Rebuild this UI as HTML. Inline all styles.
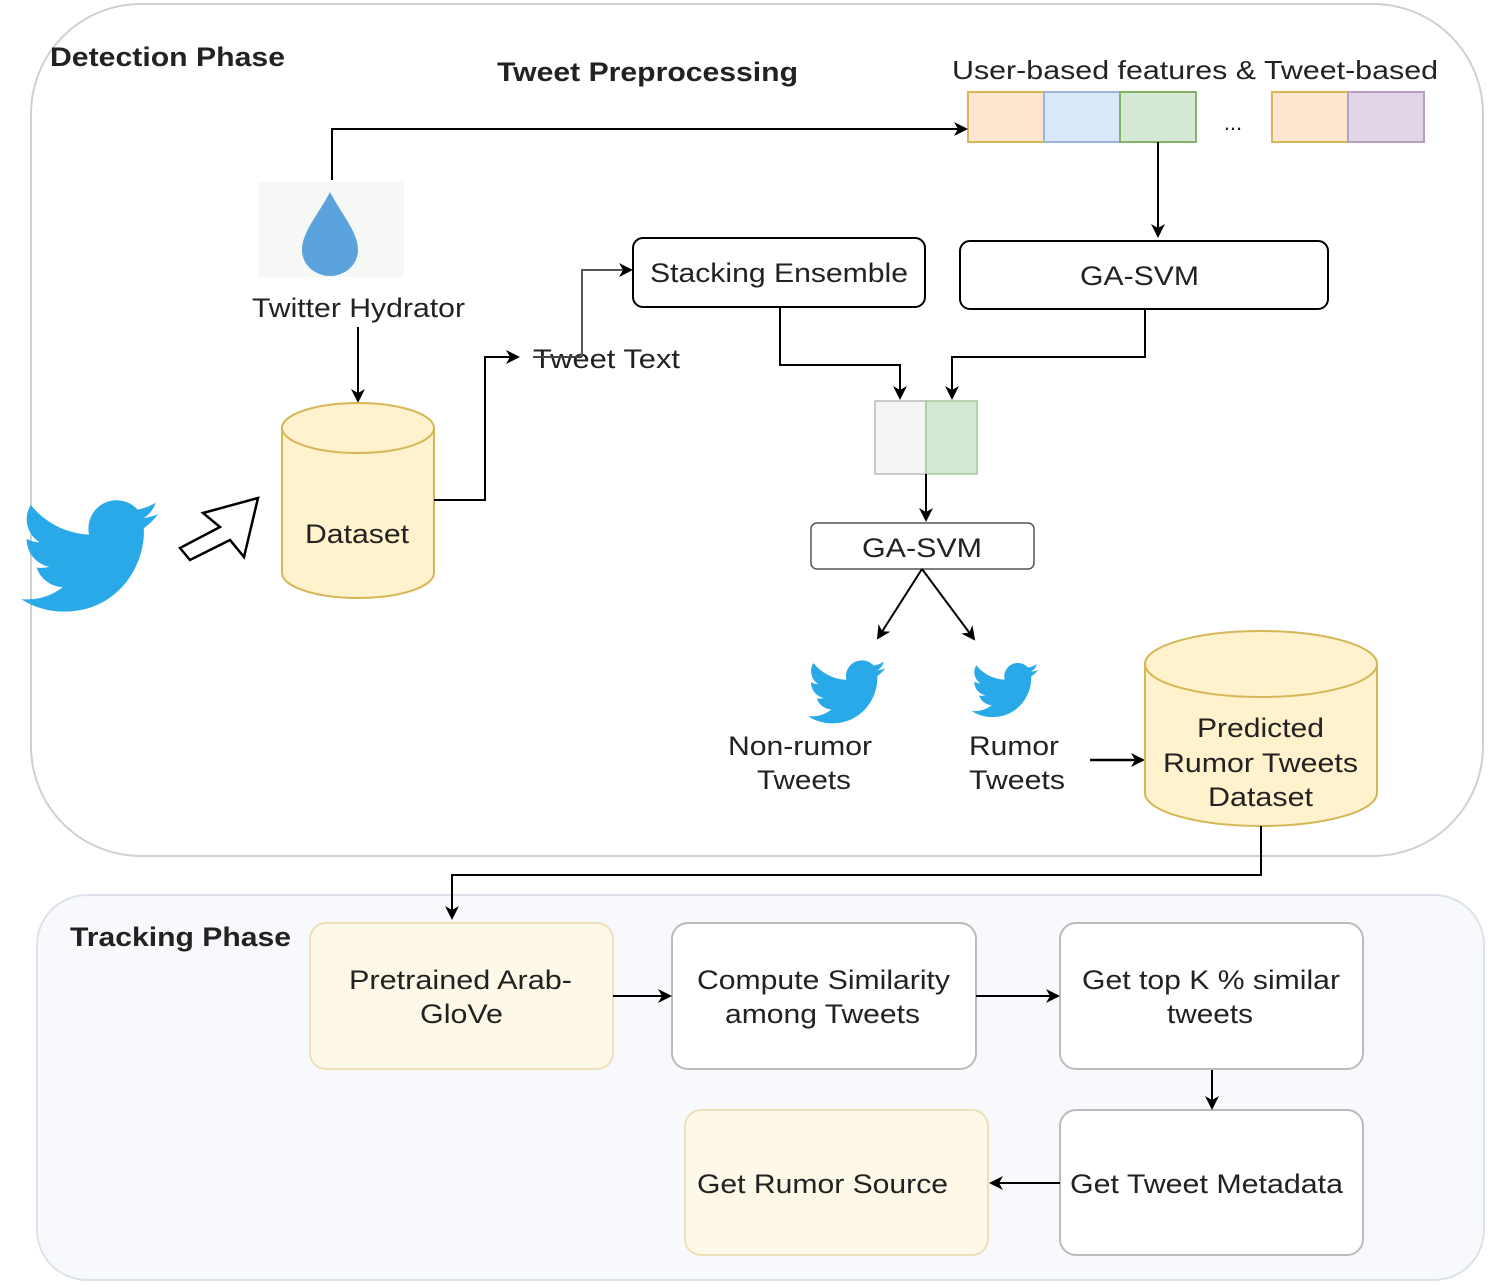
<!DOCTYPE html>
<html><head><meta charset="utf-8"><style>
html,body{margin:0;padding:0;background:#fff}
svg{display:block}
text{font-family:"Liberation Sans",sans-serif;fill:#222}
</style></head><body>
<svg width="1505" height="1285" viewBox="0 0 1505 1285">
<defs>
<marker id="b" markerWidth="14" markerHeight="14" refX="12" refY="7" orient="auto" markerUnits="userSpaceOnUse" viewBox="0 0 14 14">
<path d="M0,0 L14,7 L0,14 L4,7 z" fill="#000"/></marker>
<symbol id="tw" viewBox="0 0 24 20">
<path fill="#2aa9e8" d="M23.6 2.4c-.9.4-1.8.6-2.8.8 1-.6 1.8-1.6 2.1-2.7-.9.6-2 1-3.1 1.2C18.9.7 17.6.1 16.2.1c-2.7 0-4.8 2.2-4.8 4.8 0 .4 0 .8.1 1.1C7.5 5.8 3.9 3.9 1.5.9c-.4.7-.7 1.6-.7 2.4 0 1.700.9 3.2 2.2 4-.8 0-1.5-.2-2.2-.6v.1c0 2.3 1.7 4.3 3.9 4.7-.4.1-.8.2-1.3.2-.3 0-.6 0-.9-.1.6 1.9 2.4 3.3 4.5 3.400-1.7 1.3-3.7 2.1-6 2.1-.4 0-.8 0-1.2-.1 2.1 1.4 4.7 2.2 7.4 2.2 8.9 0 13.7-7.4 13.7-13.7v-.6c.9-.7 1.8-1.5 2.5-2.5z"/>
</symbol>
</defs>

<rect x="31" y="4" width="1452" height="852" rx="110" fill="#fff" stroke="#d0d0d0" stroke-width="2"/>
<rect x="37" y="895" width="1447" height="385" rx="50" fill="#f8f9fc" stroke="#dde2ea" stroke-width="2"/>

<g lengthAdjust="spacingAndGlyphs">
<text x="50" y="66" font-size="27" font-weight="bold" textLength="235" lengthAdjust="spacingAndGlyphs">Detection Phase</text>
<text x="497" y="81" font-size="27" font-weight="bold" textLength="301" lengthAdjust="spacingAndGlyphs">Tweet Preprocessing</text>
<text x="952" y="79" font-size="26" textLength="486" lengthAdjust="spacingAndGlyphs">User-based features &amp; Tweet-based</text>
</g>

<rect x="968" y="92" width="76" height="50" fill="#fde6cf" stroke="#d6b656" stroke-width="2"/>
<rect x="1044" y="92" width="76" height="50" fill="#dae8fc" stroke="#9bb5d6" stroke-width="2"/>
<rect x="1120" y="92" width="76" height="50" fill="#d5e8d4" stroke="#82b366" stroke-width="2"/>
<text x="1233" y="130" font-size="22" text-anchor="middle">...</text>
<rect x="1272" y="92" width="76" height="50" fill="#fde6cf" stroke="#d6b656" stroke-width="2"/>
<rect x="1348" y="92" width="76" height="50" fill="#e1d5e7" stroke="#b5a0c0" stroke-width="2"/>

<rect x="258" y="182" width="146" height="95" fill="#f6f8f6"/>
<path d="M330,192 C318,215 302,232 302,250 A28,26 0 0 0 358,250 C358,232 342,215 330,192 z" fill="#5ba3dd"/>
<text x="252" y="317" font-size="27" textLength="213" lengthAdjust="spacingAndGlyphs">Twitter Hydrator</text>
<polyline points="332,180 332,129 966,129" fill="none" stroke="#000" stroke-width="2" marker-end="url(#b)"/>
<line x1="358" y1="327" x2="358" y2="401" stroke="#000" stroke-width="2" marker-end="url(#b)"/>

<path d="M282,428 L282,573 A76,25 0 0 0 434,573 L434,428" fill="#fff2cc" stroke="#d6b656" stroke-width="2"/>
<ellipse cx="358" cy="428" rx="76" ry="25" fill="#fff2cc" stroke="#d6b656" stroke-width="2"/>
<text x="305" y="543" font-size="27" fill="#555" textLength="104" lengthAdjust="spacingAndGlyphs">Dataset</text>

<svg x="22" y="498" width="140" height="120" viewBox="0 0 24 20"><use href="#tw"/></svg>
<path d="M258,498 L244,557 L230,540 L190,560 L180,548 L220,527 L203,513 z" fill="#fff" stroke="#000" stroke-width="2.5"/>

<polyline points="434,500 485,500 485,357 518,357" fill="none" stroke="#000" stroke-width="2" marker-end="url(#b)"/>
<text x="533" y="368" font-size="27" textLength="147" lengthAdjust="spacingAndGlyphs">Tweet Text</text>
<line x1="533" y1="357" x2="582" y2="357" stroke="#444" stroke-width="2"/>
<polyline points="582,357 582,270 631,270" fill="none" stroke="#555" stroke-width="2" marker-end="url(#b)"/>

<rect x="633" y="238" width="292" height="69" rx="10" fill="#fff" stroke="#000" stroke-width="2"/>
<text x="650" y="282" font-size="27" textLength="258" lengthAdjust="spacingAndGlyphs">Stacking Ensemble</text>
<rect x="960" y="241" width="368" height="68" rx="10" fill="#fff" stroke="#000" stroke-width="2"/>
<text x="1080" y="285" font-size="27" textLength="119" lengthAdjust="spacingAndGlyphs">GA-SVM</text>
<line x1="1158" y1="142" x2="1158" y2="236" stroke="#000" stroke-width="2" marker-end="url(#b)"/>

<polyline points="780,307 780,365 900,365 900,398" fill="none" stroke="#000" stroke-width="2" marker-end="url(#b)"/>
<polyline points="1145,309 1145,357 952,357 952,398" fill="none" stroke="#000" stroke-width="2" marker-end="url(#b)"/>

<rect x="875" y="401" width="51" height="73" fill="#f5f5f5" stroke="#bbb" stroke-width="1.5"/>
<rect x="926" y="401" width="51" height="73" fill="#d5e8d4" stroke="#a8c8a0" stroke-width="1.5"/>
<line x1="926" y1="474" x2="926" y2="520" stroke="#000" stroke-width="2" marker-end="url(#b)"/>

<rect x="811" y="523" width="223" height="46" rx="6" fill="#fff" stroke="#555" stroke-width="1.5"/>
<text x="862" y="557" font-size="27" textLength="120" lengthAdjust="spacingAndGlyphs">GA-SVM</text>
<line x1="922" y1="569" x2="878" y2="638" stroke="#000" stroke-width="2" marker-end="url(#b)"/>
<line x1="922" y1="569" x2="974" y2="639" stroke="#000" stroke-width="2" marker-end="url(#b)"/>

<svg x="808" y="660" width="80" height="66" viewBox="0 0 24 20"><use href="#tw"/></svg>
<svg x="972" y="662" width="68" height="58" viewBox="0 0 24 20"><use href="#tw"/></svg>
<text x="728" y="755" font-size="27" textLength="144" lengthAdjust="spacingAndGlyphs">Non-rumor</text>
<text x="757" y="789" font-size="27" textLength="94" lengthAdjust="spacingAndGlyphs">Tweets</text>
<text x="969" y="755" font-size="27" textLength="90" lengthAdjust="spacingAndGlyphs">Rumor</text>
<text x="969" y="789" font-size="27" textLength="96" lengthAdjust="spacingAndGlyphs">Tweets</text>
<line x1="1090" y1="760" x2="1143" y2="760" stroke="#000" stroke-width="2.5" marker-end="url(#b)"/>

<path d="M1145,664 L1145,793 A116,33 0 0 0 1377,793 L1377,664" fill="#fff2cc" stroke="#d6b656" stroke-width="2"/>
<ellipse cx="1261" cy="664" rx="116" ry="33" fill="#fff2cc" stroke="#d6b656" stroke-width="2"/>
<text x="1197" y="737" font-size="27" textLength="127" lengthAdjust="spacingAndGlyphs">Predicted</text>
<text x="1163" y="772" font-size="27" textLength="195" lengthAdjust="spacingAndGlyphs">Rumor Tweets</text>
<text x="1208" y="806" font-size="27" textLength="105" lengthAdjust="spacingAndGlyphs">Dataset</text>

<polyline points="1261,826 1261,875 452,875 452,918" fill="none" stroke="#000" stroke-width="2" marker-end="url(#b)"/>

<text x="70" y="946" font-size="27" font-weight="bold" textLength="221" lengthAdjust="spacingAndGlyphs">Tracking Phase</text>
<rect x="310" y="923" width="303" height="146" rx="16" fill="#fdf8e8" stroke="#ece0b8" stroke-width="2"/>
<text x="349" y="989" font-size="27" textLength="223" lengthAdjust="spacingAndGlyphs">Pretrained Arab-</text>
<text x="420" y="1023" font-size="27" textLength="83" lengthAdjust="spacingAndGlyphs">GloVe</text>
<rect x="672" y="923" width="304" height="146" rx="16" fill="#fff" stroke="#bbb" stroke-width="2"/>
<text x="697" y="989" font-size="27" textLength="253" lengthAdjust="spacingAndGlyphs">Compute Similarity</text>
<text x="725" y="1023" font-size="27" textLength="195" lengthAdjust="spacingAndGlyphs">among Tweets</text>
<rect x="1060" y="923" width="303" height="146" rx="16" fill="#fff" stroke="#bbb" stroke-width="2"/>
<text x="1082" y="989" font-size="27" textLength="258" lengthAdjust="spacingAndGlyphs">Get top K % similar</text>
<text x="1167" y="1023" font-size="27" textLength="86" lengthAdjust="spacingAndGlyphs">tweets</text>
<rect x="1060" y="1110" width="303" height="145" rx="16" fill="#fff" stroke="#bbb" stroke-width="2"/>
<text x="1070" y="1193" font-size="27" textLength="273" lengthAdjust="spacingAndGlyphs">Get Tweet Metadata</text>
<rect x="685" y="1110" width="303" height="145" rx="16" fill="#fdf8e8" stroke="#ece0b8" stroke-width="2"/>
<text x="697" y="1193" font-size="27" textLength="251" lengthAdjust="spacingAndGlyphs">Get Rumor Source</text>

<line x1="613" y1="996" x2="670" y2="996" stroke="#000" stroke-width="2" marker-end="url(#b)"/>
<line x1="976" y1="996" x2="1058" y2="996" stroke="#000" stroke-width="2" marker-end="url(#b)"/>
<line x1="1212" y1="1070" x2="1212" y2="1108" stroke="#000" stroke-width="2" marker-end="url(#b)"/>
<line x1="1060" y1="1183" x2="991" y2="1183" stroke="#000" stroke-width="2" marker-end="url(#b)"/>
</svg>
</body></html>
